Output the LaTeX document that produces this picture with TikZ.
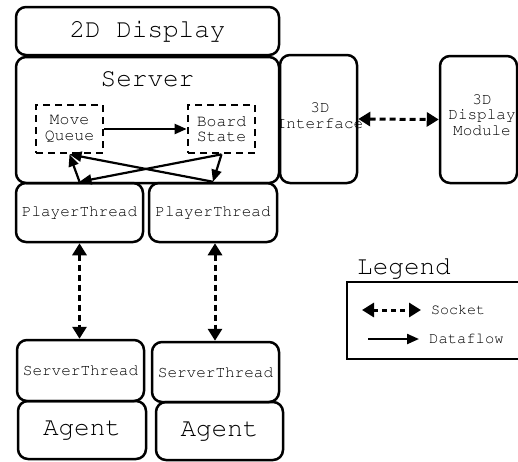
\documentclass[tikz,border=0pt]{standalone}
\usepackage[T1]{fontenc}
\usepackage{courier}
\renewcommand{\familydefault}{\ttdefault}
\usetikzlibrary{arrows.meta}

\newcommand{\bigfont}{\fontsize{26}{26}\selectfont}
\newcommand{\smallfont}{\fontsize{16}{15.5}\selectfont}
\newcommand{\midfont}{\fontsize{16.5}{15.5}\selectfont}

\tikzset{
  roundbox/.style={draw, line width=2.5pt, rounded corners=10pt, inner sep=0pt},
  dashbox/.style={draw, line width=2.7pt, dash pattern=on 7pt off 5pt, inner sep=0pt},
  flow/.style={line width=2.2pt, -{Triangle[length=12pt,width=10pt]}},
  socket/.style={line width=3pt, dash pattern=on 6pt off 4pt,
    {Triangle[length=12pt,width=14pt]}-{Triangle[length=12pt,width=14pt]}},
}

\begin{document}
\begin{tikzpicture}[x=1pt,y=-1pt]
  \clip (0,0) rectangle (518,461);
  \useasboundingbox (0,0) rectangle (518,461);

  % top display and server
  \node[roundbox, minimum width=263pt, minimum height=48pt, font=\bigfont] (disp2d) at (147.5,31) {2D Display};
  \node[roundbox, minimum width=263pt, minimum height=126pt] (server) at (147.5,120) {};
  \node[font=\bigfont, inner sep=0pt] (servertitle) at (147.5,79) {Server};

  % internal server components
  \node[dashbox, minimum width=67pt, minimum height=48pt, font=\midfont, align=center] (mq) at (69.5,129) {Move\\Queue};
  \node[dashbox, minimum width=67pt, minimum height=48pt, font=\midfont, align=center] (bs) at (221.5,129) {Board\\State};

  % player threads
  \node[roundbox, minimum width=127pt, minimum height=59pt, font=\smallfont] (pt1) at (79.5,212.5) {PlayerThread};
  \node[roundbox, minimum width=128pt, minimum height=59pt, font=\smallfont] (pt2) at (213,212.5) {PlayerThread};

  % client side
  \node[roundbox, minimum width=127pt, minimum height=61pt, font=\smallfont] (st1) at (80.5,370.5) {ServerThread};
  \node[roundbox, minimum width=127pt, minimum height=60pt, font=\smallfont] (st2) at (215.5,372) {ServerThread};
  \node[roundbox, minimum width=128pt, minimum height=58pt, font=\bigfont] (ag1) at (82,430) {Agent};
  \node[roundbox, minimum width=127pt, minimum height=58pt, font=\bigfont] (ag2) at (219.5,431) {Agent};

  % 3D display side
  \node[roundbox, minimum width=77pt, minimum height=128pt] (if3d) at (318.5,119) {};
  \node[font=\smallfont, align=center, inner sep=0pt] (if3dtext) at (320,115.5) {3D\\Interface};
  \node[roundbox, minimum width=77pt, minimum height=127pt] (dm3d) at (478.5,119.5) {};
  \node[font=\smallfont, align=center, inner sep=0pt] (dm3dtext) at (482,115) {3D\\Display\\Module};

  % data flow inside the server
  \draw[flow] (mq.east) -- (bs.west);
  \draw[flow] (pt1.north) -- (mq.south);
  \draw[flow] (pt2.north) -- (mq.south);
  \draw[flow] (bs.south) -- (pt1.north);
  \draw[flow] (bs.south) -- (pt2.north);

  % socket connections
  \draw[socket] (pt1.south) -- (pt1.south |- st1.north);
  \draw[socket] ([xshift=2pt]pt2.south) -- ([xshift=2pt]pt2.south |- st2.north);
  \draw[socket] (if3d.east) -- (dm3d.west);

  % legend
  \node[font=\bigfont, inner sep=0pt] (legendtitle) at (404,268) {Legend};
  \node[draw, line width=2.5pt, minimum width=180pt, minimum height=77pt, inner sep=0pt] (legendbox) at (437,320.5) {};
  \coordinate (sockA) at (362,310);
  \coordinate (sockB) at (421,310);
  \coordinate (flowA) at (368,339);
  \coordinate (flowB) at (419,339);
  \draw[socket, dash pattern=on 5pt off 4pt] (sockA) -- (sockB);
  \draw[flow] (flowA) -- (flowB);
  \node[font=\fontsize{15}{15}\selectfont, anchor=west, inner sep=0pt] (socklabel) at (431,310) {Socket};
  \node[font=\fontsize{15.5}{15}\selectfont, anchor=west, inner sep=0pt] (flowlabel) at (429,339) {Dataflow};
\end{tikzpicture}
\end{document}
